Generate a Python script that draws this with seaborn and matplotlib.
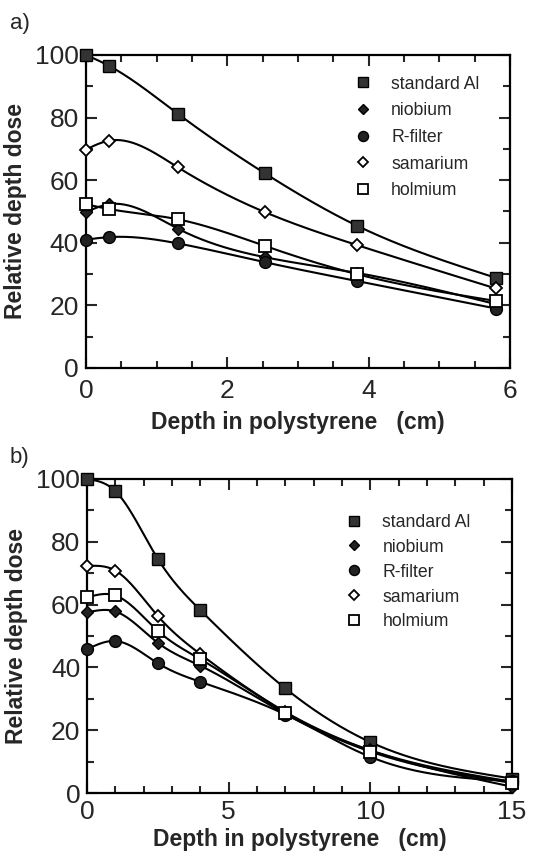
import numpy as np
import pandas as pd
import matplotlib
matplotlib.use('Agg')
import matplotlib.pyplot as plt
import seaborn as sns
from matplotlib.ticker import MultipleLocator
from matplotlib.lines import Line2D

# =============================================================================
# Data
# =============================================================================

filters = ['standard Al', 'niobium', 'R-filter', 'samarium', 'holmium']

# panel a)
depth_a = [0, 0.32, 1.3, 2.53, 3.83, 5.8]
al_a = [100, 96.6, 81.2, 62.2, 45.5, 28.8]
nb_a = [49.8, 52.3, 44.5, 35.4, 30.4, 20.4]
rf_a = [41.0, 41.8, 39.8, 33.8, 27.8, 19.0]
sm_a = [69.8, 72.6, 64.1, 49.8, 39.3, 25.4]
ho_a = [52.3, 50.8, 47.5, 39.0, 30.0, 21.4]

# panel b)
depth_b = [0, 1, 2.5, 4, 7, 10, 15]
al_b = [100, 96.1, 74.5, 58.2, 33.3, 16.2, 4.6]
nb_b = [57.5, 57.8, 47.8, 40.5, 25.2, 13.5, 2.0]
rf_b = [45.8, 48.4, 41.3, 35.4, 25.0, 11.5, 3.8]
sm_b = [72.3, 70.8, 56.3, 44.2, 25.8, 13.6, 3.6]
ho_b = [62.3, 62.9, 51.6, 42.6, 25.6, 13.2, 3.2]

# marker style per filter
styles = {
    'standard Al': dict(marker='s', mfc='#333333', ms=9),
    'niobium': dict(marker='D', mfc='#222222', ms=6.5),
    'R-filter': dict(marker='o', mfc='#222222', ms=8.5),
    'samarium': dict(marker='D', mfc='white', ms=6.5, mew=1.3),
    'holmium': dict(marker='s', mfc='white', ms=9, mew=1.3),
}


def smooth_curve(x, y, n=300):
    # natural cubic spline, only used to draw the smooth line through the points
    x = np.asarray(x, float)
    y = np.asarray(y, float)
    k = len(x)
    h = np.diff(x)
    A = np.zeros((k, k))
    r = np.zeros(k)
    A[0, 0] = 1
    A[-1, -1] = 1
    for i in range(1, k - 1):
        A[i, i - 1] = h[i - 1]
        A[i, i] = 2 * (h[i - 1] + h[i])
        A[i, i + 1] = h[i]
        r[i] = 6 * ((y[i + 1] - y[i]) / h[i] - (y[i] - y[i - 1]) / h[i - 1])
    M = np.linalg.solve(A, r)
    xs = np.linspace(x[0], x[-1], n)
    idx = np.clip(np.searchsorted(x, xs) - 1, 0, k - 2)
    x0, x1 = x[idx], x[idx + 1]
    hh = x1 - x0
    a = (x1 - xs) / hh
    b = (xs - x0) / hh
    ys = (a * y[idx] + b * y[idx + 1]
          + ((a ** 3 - a) * M[idx] + (b ** 3 - b) * M[idx + 1]) * hh ** 2 / 6)
    return xs, ys


def draw_panel(ax, depth, series, xmax, xmajor, xminor, leg_anchor, leg_space, xpad):
    for name, vals in zip(filters, series):
        xs, ys = smooth_curve(depth, vals)
        sns.lineplot(x=xs, y=ys, ax=ax, color='black', lw=1.5,
                     sort=False, estimator=None)
    for name, vals in zip(filters, series):
        st = styles[name]
        ax.plot(depth, vals, ls='none', marker=st['marker'], ms=st['ms'],
                mfc=st['mfc'], mec='black', mew=st.get('mew', 1.0),
                clip_on=False, zorder=5)
    ax.set_xlim(0, xmax)
    ax.set_ylim(0, 100)
    ax.xaxis.set_major_locator(MultipleLocator(xmajor))
    ax.xaxis.set_minor_locator(MultipleLocator(xminor))
    ax.yaxis.set_major_locator(MultipleLocator(20))
    ax.yaxis.set_minor_locator(MultipleLocator(10))
    ax.tick_params(which='both', direction='in', top=True, right=True,
                   width=1.5, labelsize=19, pad=5)
    ax.tick_params(axis='x', pad=5 + xpad)
    ax.tick_params(which='major', length=8)
    ax.tick_params(which='minor', length=5)
    for sp in ax.spines.values():
        sp.set_linewidth(1.6)
        sp.set_color('black')
    ax.set_xlabel('Depth in polystyrene   (cm)', fontsize=16.5, fontweight='bold',
                  labelpad=3 + xpad)
    ax.set_ylabel('Relative depth dose', fontsize=16.5, fontweight='bold', labelpad=6)

    handles = []
    for name in filters:
        st = styles[name]
        handles.append(Line2D([], [], ls='none', marker=st['marker'],
                              ms=st['ms'] * 0.85, mfc=st['mfc'], mec='black',
                              mew=st.get('mew', 1.0)))
    ax.legend(handles, filters, loc='upper right', bbox_to_anchor=leg_anchor,
              frameon=False, fontsize=12.7, handletextpad=1.1,
              labelspacing=leg_space, handlelength=1.0)


sns.set_theme(style='ticks')
plt.rcParams['font.family'] = ['Liberation Sans', 'DejaVu Sans']

fig = plt.figure(figsize=(5.55, 8.55), dpi=100)
ax1 = fig.add_axes([0.155, 0.5696, 0.764, 0.3661])
ax2 = fig.add_axes([0.157, 0.0725, 0.7655, 0.3673])

draw_panel(ax1, depth_a, [al_a, nb_a, rf_a, sm_a, ho_a], 6, 2, 0.5,
           (0.965, 0.985), 0.55, 3)
draw_panel(ax2, depth_b, [al_b, nb_b, rf_b, sm_b, ho_b], 15, 5, 1,
           (0.94, 0.94), 0.45, 0)

fig.text(0.018, 0.966, 'a)', fontsize=16)
fig.text(0.018, 0.458, 'b)', fontsize=16)

fig.savefig('out.png', dpi=100)
